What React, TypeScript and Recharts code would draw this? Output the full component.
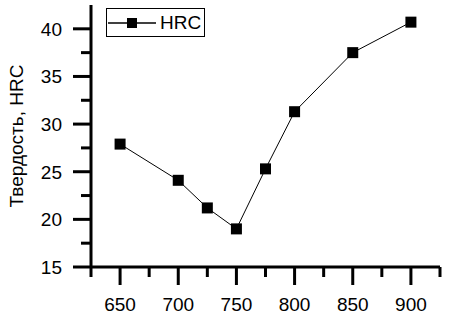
import { LineChart, Line, XAxis, YAxis } from 'recharts';

const temps = [650, 700, 725, 750, 775, 800, 850, 900];
const hrc = [27.9, 24.1, 21.2, 19.0, 25.3, 31.3, 37.5, 40.7];
const xTicks = [625, 650, 675, 700, 725, 750, 775, 800, 825, 850, 875, 900, 925];
const yTicks = [15, 17.5, 20, 22.5, 25, 27.5, 30, 32.5, 35, 37.5, 40];

const chartData = temps.map((t, i) => ({ t, hrc: hrc[i] }));

const FONT = '"Liberation Sans", Arial, sans-serif';

const XTick = (props: any) => {
    const { x, y, payload } = props;
    const major = payload.value % 50 === 0;
    return (
        <g>
            <line x1={x} x2={x} y1={y} y2={y + (major ? 18 : 10)} stroke="#000" strokeWidth={3} />
            {major && (
                <text x={x} y={y + 44} textAnchor="middle" fontSize={19} fontFamily={FONT} fill="#000">
                    {payload.value}
                </text>
            )}
        </g>
    );
};

const YTick = (props: any) => {
    const { x, y, payload } = props;
    const major = payload.value % 5 === 0;
    return (
        <g>
            <line x1={x} x2={x - (major ? 18 : 10)} y1={y} y2={y} stroke="#000" strokeWidth={3} />
            {major && (
                <text x={x - 29} y={y + 7} textAnchor="end" fontSize={19} fontFamily={FONT} fill="#000">
                    {payload.value}
                </text>
            )}
        </g>
    );
};

const SquareDot = (props: any) => {
    const { cx, cy } = props;
    return <rect x={cx - 5.5} y={cy - 5.5} width={11} height={11} fill="#000" />;
};

const LegendBox = () => (
    <div
        style={{
            position: 'absolute',
            left: 106,
            top: 8,
            width: 99,
            height: 29,
            border: '1.5px solid #000',
            boxSizing: 'border-box',
            display: 'flex',
            alignItems: 'center',
            background: '#fff',
        }}
    >
        <svg width={53} height={24}>
            <line x1={1} x2={49} y1={12} y2={12} stroke="#000" strokeWidth={1.5} />
            <rect x={20} y={7} width={10} height={10} fill="#000" />
        </svg>
        <span style={{ fontFamily: FONT, fontSize: 19, color: '#000', lineHeight: '19px' }}>HRC</span>
    </div>
);

export default function App() {
    return (
        <div style={{ position: 'absolute', left: 0, top: 0, width: 450, height: 316, background: '#fff' }}>
            <LineChart width={450} height={316} data={chartData} margin={{ top: 5, right: 10, bottom: 0, left: 0 }}>
                <XAxis
                    dataKey="t"
                    type="number"
                    domain={[625, 925]}
                    ticks={xTicks}
                    interval={0}
                    height={49}
                    tickSize={0}
                    tickMargin={0}
                    tickLine={false}
                    axisLine={{ stroke: '#000', strokeWidth: 3 }}
                    tick={<XTick />}
                />
                <YAxis
                    type="number"
                    domain={[15, 42.5]}
                    ticks={yTicks}
                    interval={0}
                    width={91}
                    tickSize={0}
                    tickMargin={0}
                    tickLine={false}
                    axisLine={{ stroke: '#000', strokeWidth: 3 }}
                    tick={<YTick />}
                    label={{
                        content: () => (
                            <text
                                x={23}
                                y={136}
                                transform="rotate(-90 23 136)"
                                textAnchor="middle"
                                fontSize={19}
                                fontFamily={FONT}
                                fill="#000"
                            >
                                Твердость, HRC
                            </text>
                        ),
                    }}
                />
                <Line
                    type="linear"
                    dataKey="hrc"
                    stroke="#000"
                    strokeWidth={1}
                    dot={<SquareDot />}
                    activeDot={false}
                    isAnimationActive={false}
                />
            </LineChart>
            <LegendBox />
        </div>
    );
}
